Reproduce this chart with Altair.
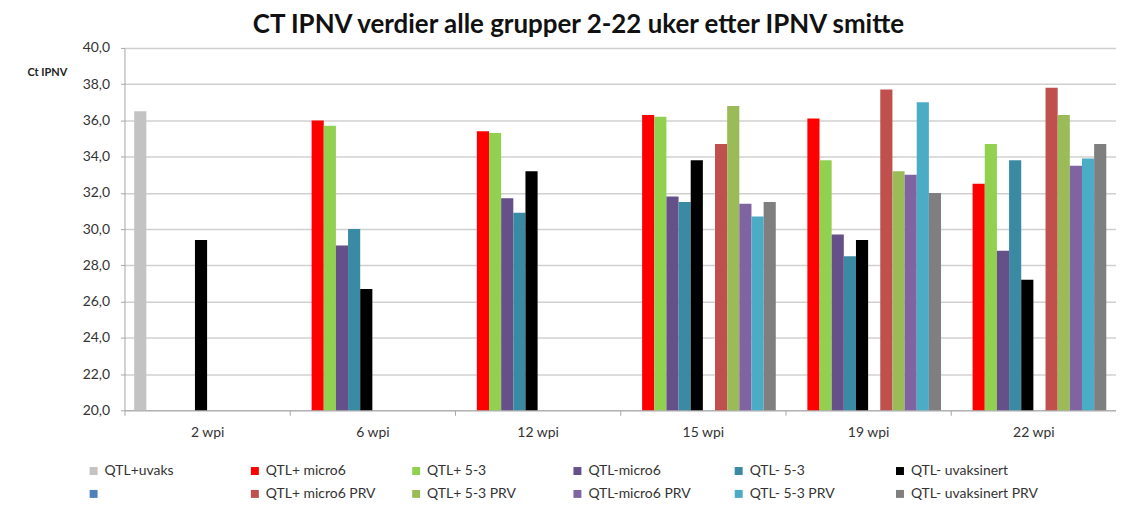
import altair as alt
import pandas as pd

categories = ["2 wpi", "6 wpi", "12 wpi", "15 wpi", "19 wpi", "22 wpi"]

series = [
    "QTL+uvaks", "QTL+ micro6", "QTL+ 5-3", "QTL-micro6", "QTL- 5-3", "QTL- uvaksinert",
    " ", "QTL+ micro6 PRV", "QTL+ 5-3 PRV", "QTL-micro6 PRV", "QTL- 5-3 PRV", "QTL- uvaksinert PRV",
]

colors = [
    "#c3c3c3", "#ff0000", "#92d050", "#65508a", "#3b8aa3", "#000000",
    "#4f81bd", "#c0504d", "#9bbb59", "#8064a2", "#4bacc6", "#7f7f7f",
]

qtl_plus_uvaks = [36.5, None, None, None, None, None]
qtl_plus_micro6 = [None, 36.0, 35.4, 36.3, 36.1, 32.5]
qtl_plus_53 = [None, 35.7, 35.3, 36.2, 33.8, 34.7]
qtl_minus_micro6 = [None, 29.1, 31.7, 31.8, 29.7, 28.8]
qtl_minus_53 = [None, 30.0, 30.9, 31.5, 28.5, 33.8]
qtl_minus_uvaksinert = [29.4, 26.7, 33.2, 33.8, 29.4, 27.2]
blank_series = [None, None, None, None, None, None]
qtl_plus_micro6_prv = [None, None, None, 34.7, 37.7, 37.8]
qtl_plus_53_prv = [None, None, None, 36.8, 33.2, 36.3]
qtl_minus_micro6_prv = [None, None, None, 31.4, 33.0, 33.5]
qtl_minus_53_prv = [None, None, None, 30.7, 37.0, 33.9]
qtl_minus_uvaksinert_prv = [None, None, None, 31.5, 32.0, 34.7]

all_values = [
    qtl_plus_uvaks, qtl_plus_micro6, qtl_plus_53, qtl_minus_micro6, qtl_minus_53,
    qtl_minus_uvaksinert, blank_series, qtl_plus_micro6_prv, qtl_plus_53_prv,
    qtl_minus_micro6_prv, qtl_minus_53_prv, qtl_minus_uvaksinert_prv,
]

rows = []
for s, vals in zip(series, all_values):
    for c, v in zip(categories, vals):
        if v is not None:
            rows.append({"wpi": c, "series": s, "ct": v})
df = pd.DataFrame(rows)

FONT = "Lato"
W, H = 996, 364

chart = (
    alt.Chart(df)
    .mark_bar()
    .encode(
        x=alt.X(
            "wpi:N",
            sort=categories,
            scale=alt.Scale(domain=categories, paddingInner=0, paddingOuter=0),
            axis=alt.Axis(
                title=None,
                labelAngle=0,
                tickBand="extent",
                tickSize=5,
                tickColor="#a6a6a6",
                domainColor="#a6a6a6",
                labelPadding=10,
                labelFontSize=14,
                labelColor="#333333",
                labelFont=FONT,
                grid=False,
            ),
        ),
        xOffset=alt.XOffset(
            "series:N",
            scale=alt.Scale(domain=series, paddingInner=0, paddingOuter=0.8),
        ),
        y=alt.Y(
            "ct:Q",
            scale=alt.Scale(domain=[20, 40], zero=False, nice=False),
            axis=alt.Axis(
                values=list(range(20, 41, 2)),
                labelExpr="replace(format(datum.value, '.1f'), '.', ',')",
                title="Ct IPNV",
                titleAngle=0,
                titleX=-98,
                titleY=25,
                titleAlign="left",
                titleBaseline="middle",
                titleFontWeight="bold",
                titleFontSize=11,
                titleFont=FONT,
                titleColor="#222222",
                grid=True,
                gridColor="#d0d0d0",
                gridWidth=1.5,
                domainColor="#a6a6a6",
                tickColor="#a6a6a6",
                tickSize=4,
                labelPadding=11,
                labelFontSize=14,
                labelColor="#333333",
                labelFont=FONT,
            ),
        ),
        y2=alt.datum(20),
        color=alt.Color(
            "series:N",
            scale=alt.Scale(domain=series, range=colors),
            legend=alt.Legend(
                orient="none",
                legendX=-38,
                legendY=418,
                columns=6,
                direction="horizontal",
                title=None,
                symbolType="square",
                symbolSize=64,
                symbolStrokeWidth=0,
                labelFontSize=14,
                labelFont=FONT,
                labelColor="#333333",
                labelLimit=250,
                gridAlign="all",
                columnPadding=16,
                rowPadding=9,
                labelOffset=4,
            ),
        ),
    )
    .properties(
        width=W,
        height=H,
        autosize=alt.AutoSizeParams(type="none"),
        padding={"left": 117, "top": 39, "right": 0, "bottom": 89},
        title=alt.TitleParams(
            "CT IPNV verdier alle grupper 2-22 uker etter IPNV smitte",
            fontSize=26,
            font=FONT,
            fontWeight="bold",
            color="#111111",
            anchor="middle",
            dx=-42,
            offset=3,
        ),
    )
    .configure_view(stroke=None)
)

chart.save("out.html", embed_options={"renderer": "svg", "actions": False})
